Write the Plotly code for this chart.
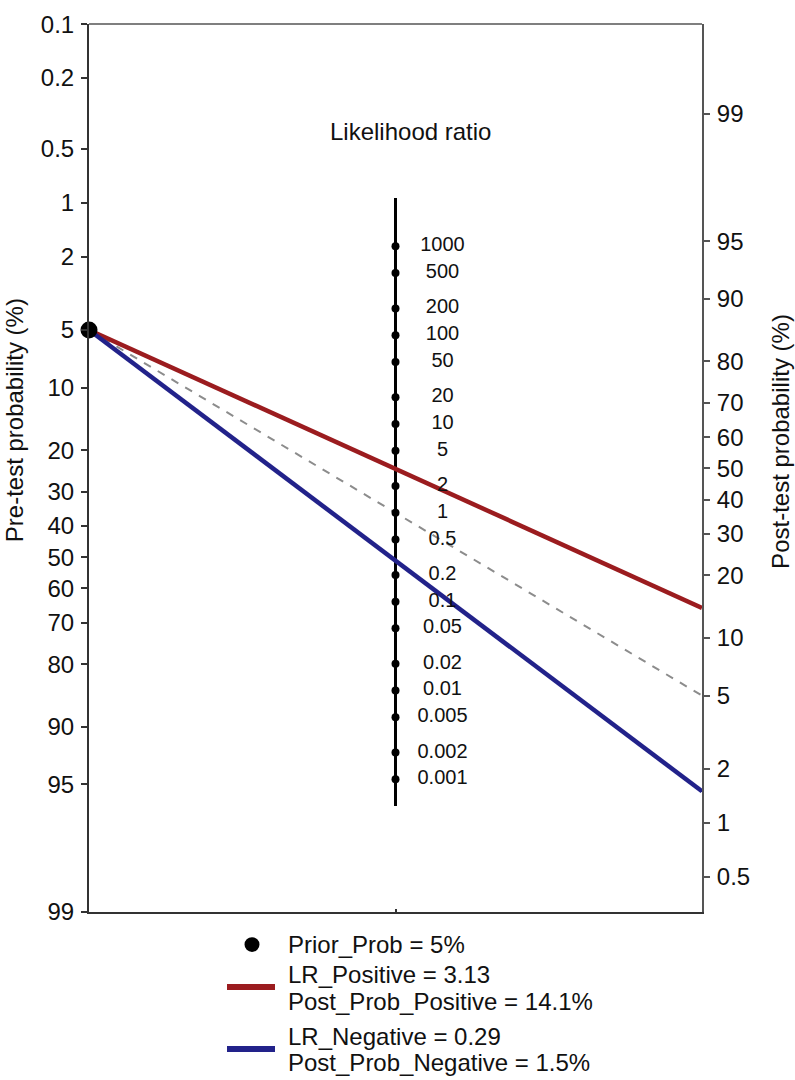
import numpy as np
import plotly.graph_objects as go

# --- data ---
PRE_TICKS = [0.1, 0.2, 0.5, 1, 2, 5, 10, 20, 30, 40, 50, 60, 70, 80, 90, 95, 99]
POST_TICKS = [99, 95, 90, 80, 70, 60, 50, 40, 30, 20, 10, 5, 2, 1, 0.5]
LR_TICKS = [1000, 500, 200, 100, 50, 20, 10, 5, 2, 1,
            0.5, 0.2, 0.1, 0.05, 0.02, 0.01, 0.005, 0.002, 0.001]

PRIOR_PROB = 5.0
LR_POS, POST_POS = 3.13, 14.1
LR_NEG, POST_NEG = 0.29, 1.5

# --- styling / geometry ---
FONT = "Liberation Sans, Arial, sans-serif"
RED = "#9B1C1F"
BLUE = "#22228A"
AXIS = "#333333"
SHIFT = -1.15          # right scale offset (logit units), as drawn in source
LR_AXIS_ENDS = [3500, 0.0005]

W, H = 795, 1080
L, R, T, B = 89, 93, 11, 168
PW, PH = W - L - R, H - T - B


def logit(p):
    p = np.asarray(p, dtype=float) / 100.0
    return np.log(p / (1 - p))


def pre_y(p):
    return logit(p)


def post_y(p):
    return -logit(p) + SHIFT


def lr_y(lr):
    return (SHIFT - np.log(np.asarray(lr, dtype=float))) / 2


# window pixel -> paper coordinates
def px(x):
    return (x - L) / PW


def py(y):
    return (H - B - y) / PH


fig = go.Figure()

# reference line LR = 1
fig.add_trace(go.Scatter(
    x=[0, 1], y=[pre_y(PRIOR_PROB), post_y(PRIOR_PROB)],
    mode="lines", line=dict(color="#8c8c8c", width=2, dash="8px,8px"),
    showlegend=False, hoverinfo="skip", cliponaxis=False,
))

# middle likelihood ratio axis
fig.add_trace(go.Scatter(
    x=[0.5, 0.5], y=lr_y(LR_AXIS_ENDS),
    mode="lines", line=dict(color="black", width=3),
    showlegend=False, hoverinfo="skip", cliponaxis=False,
))

fig.add_trace(go.Scatter(
    x=[0, 1], y=[pre_y(PRIOR_PROB), post_y(POST_POS)],
    mode="lines", line=dict(color=RED, width=4.5),
    showlegend=False, cliponaxis=False,
))
fig.add_trace(go.Scatter(
    x=[0, 1], y=[pre_y(PRIOR_PROB), post_y(POST_NEG)],
    mode="lines", line=dict(color=BLUE, width=4.5),
    showlegend=False, cliponaxis=False,
))

fig.add_trace(go.Scatter(
    x=[0.5] * len(LR_TICKS), y=lr_y(LR_TICKS),
    mode="markers", marker=dict(color="black", size=8),
    showlegend=False, cliponaxis=False,
))
fig.add_trace(go.Scatter(
    x=[0.5 + 47 / PW] * len(LR_TICKS), y=lr_y(LR_TICKS),
    mode="text", text=[f"{v:g}" for v in LR_TICKS],
    textposition="middle center",
    textfont=dict(family=FONT, size=20, color="#111"),
    showlegend=False, cliponaxis=False,
))

# prior probability point
fig.add_trace(go.Scatter(
    x=[0], y=[pre_y(PRIOR_PROB)],
    mode="markers", marker=dict(color="black", size=17),
    showlegend=False, cliponaxis=False,
))

# invisible trace to activate the right axis
fig.add_trace(go.Scatter(
    x=[0.5], y=[0], yaxis="y2", mode="markers",
    marker=dict(opacity=0), showlegend=False, hoverinfo="skip",
))

eps = 0.004
yrange = [float(logit(99)) + eps, float(logit(0.1)) - eps]

fig.update_layout(
    width=W, height=H,
    margin=dict(l=L, r=R, t=T, b=B),
    paper_bgcolor="white", plot_bgcolor="white",
    font=dict(family=FONT, size=24, color="#111"),
    xaxis=dict(
        range=[0, 1], showgrid=False, zeroline=False,
        showline=True, linecolor=AXIS, linewidth=2,
        tickvals=[0.5], ticktext=[""], ticks="inside",
        ticklen=3, tickwidth=2, tickcolor=AXIS, fixedrange=True,
    ),
    yaxis=dict(
        range=yrange, showgrid=False, zeroline=False,
        showline=True, linecolor=AXIS, linewidth=2,
        tickvals=pre_y(PRE_TICKS), ticktext=[f"{v:g}" for v in PRE_TICKS],
        ticks="outside", ticklen=6, tickwidth=2, tickcolor=AXIS,
        ticklabelstandoff=2, ticklabeloverflow="allow",
    ),
    yaxis2=dict(
        range=yrange, overlaying="y", side="right",
        showgrid=False, zeroline=False,
        showline=True, linecolor="#555555", linewidth=2,
        tickvals=post_y(POST_TICKS), ticktext=[f"{v:g}" for v in POST_TICKS],
        ticks="outside", ticklen=6, tickwidth=2, tickcolor="#555555",
        ticklabelstandoff=2, ticklabeloverflow="allow",
    ),
)

# top frame line
fig.add_shape(type="line", xref="paper", yref="paper", x0=0, x1=1, y0=1, y1=1,
              line=dict(color="#555555", width=1.5))

ann = dict(showarrow=False, font=dict(family=FONT, size=24, color="#111"))
fig.add_annotation(text="Likelihood ratio", xref="paper", yref="paper",
                   x=px(410), y=py(120), xanchor="center", yanchor="middle", **ann)
fig.add_annotation(text="Pre-test probability (%)", xref="paper", yref="paper",
                   x=px(14), y=py(413), textangle=-90,
                   xanchor="center", yanchor="middle", **ann)
fig.add_annotation(text="Post-test probability (%)", xref="paper", yref="paper",
                   x=px(781), y=py(435), textangle=-90,
                   xanchor="center", yanchor="middle", **ann)

# legend drawn beneath the plot
fig.add_shape(type="circle", xref="paper", yref="paper",
              x0=px(252 - 7.5), x1=px(252 + 7.5), y0=py(945 + 7.5), y1=py(945 - 7.5),
              fillcolor="black", line=dict(color="black", width=0))
fig.add_shape(type="line", xref="paper", yref="paper",
              x0=px(227), x1=px(275), y0=py(988), y1=py(988),
              line=dict(color=RED, width=6))
fig.add_shape(type="line", xref="paper", yref="paper",
              x0=px(227), x1=px(275), y0=py(1051), y1=py(1051),
              line=dict(color=BLUE, width=6))

legend_lines = [
    (945, f"Prior_Prob = {PRIOR_PROB:g}%"),
    (975, f"LR_Positive = {LR_POS:.2f}"),
    (1003, f"Post_Prob_Positive = {POST_POS:.1f}%"),
    (1038, f"LR_Negative = {LR_NEG:.2f}"),
    (1065, f"Post_Prob_Negative = {POST_NEG:.1f}%"),
]
for ypix, txt in legend_lines:
    fig.add_annotation(text=txt, xref="paper", yref="paper",
                       x=px(286), y=py(ypix), xanchor="left", yanchor="middle", **ann)

# drop the default 8px page margin so the figure fills the window
fig.write_html("out.html", config={"displayModeBar": False},
               post_script="document.body.style.margin = '0';")
